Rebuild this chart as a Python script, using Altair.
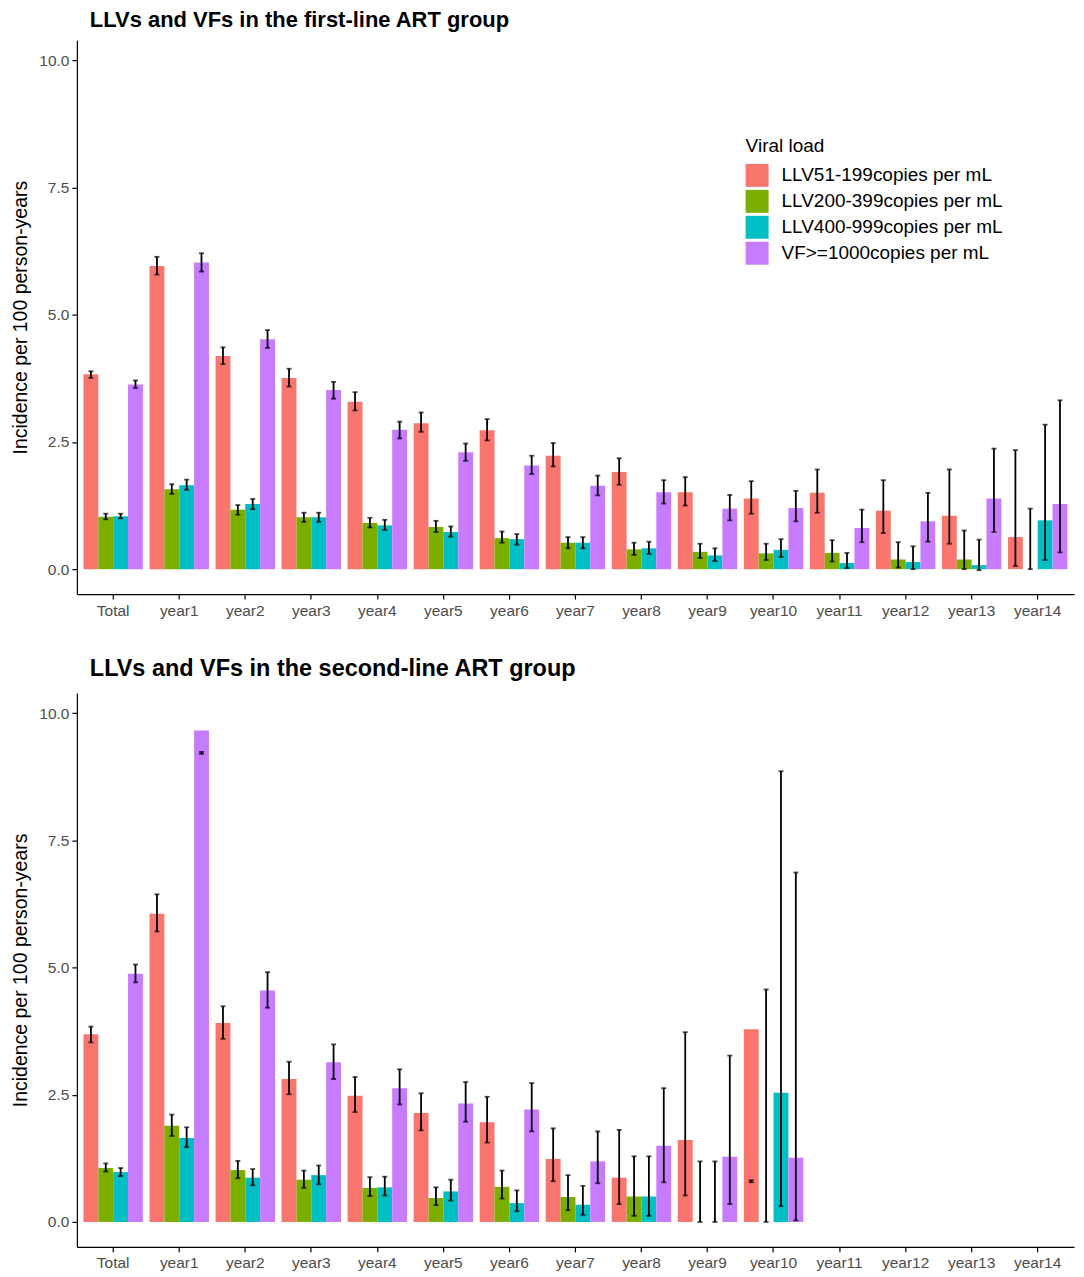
import altair as alt
import pandas as pd

categories = ["Total", "year1", "year2", "year3", "year4", "year5", "year6", "year7",
              "year8", "year9", "year10", "year11", "year12", "year13", "year14"]
series = ["LLV51-199copies per mL", "LLV200-399copies per mL",
          "LLV400-999copies per mL", "VF>=1000copies per mL"]
colors = ["#F8766D", "#7CAE00", "#00BFC4", "#C77CFF"]

# ---- first-line ART group ----
first_llv51 = [3.83, 5.96, 4.19, 3.76, 3.29, 2.87, 2.73, 2.23, 1.91, 1.51, 1.39, 1.50, 1.15, 1.05, 0.63]
first_llv51_lo = [3.76, 5.79, 4.03, 3.59, 3.12, 2.70, 2.53, 2.02, 1.66, 1.25, 1.09, 1.11, 0.71, 0.50, 0.06]
first_llv51_hi = [3.89, 6.14, 4.36, 3.94, 3.48, 3.08, 2.95, 2.48, 2.18, 1.81, 1.73, 1.96, 1.75, 1.96, 2.34]

first_llv200 = [1.03, 1.57, 1.17, 1.02, 0.91, 0.83, 0.61, 0.52, 0.39, 0.34, 0.31, 0.32, 0.19, 0.19, 0.0]
first_llv200_lo = [0.98, 1.48, 1.07, 0.93, 0.82, 0.73, 0.52, 0.41, 0.28, 0.22, 0.18, 0.15, 0.03, 0.0, 0.0]
first_llv200_hi = [1.09, 1.67, 1.26, 1.11, 1.01, 0.95, 0.74, 0.63, 0.52, 0.50, 0.50, 0.57, 0.53, 0.76, 1.19]

first_llv400 = [1.04, 1.65, 1.28, 1.02, 0.86, 0.73, 0.59, 0.52, 0.41, 0.27, 0.38, 0.12, 0.14, 0.08, 0.96]
first_llv400_lo = [1.00, 1.56, 1.18, 0.93, 0.77, 0.64, 0.48, 0.41, 0.30, 0.16, 0.24, 0.02, 0.0, -0.02, 0.18]
first_llv400_hi = [1.09, 1.76, 1.38, 1.11, 0.97, 0.84, 0.69, 0.63, 0.54, 0.41, 0.59, 0.32, 0.45, 0.58, 2.84]

first_vf = [3.63, 6.03, 4.52, 3.52, 2.74, 2.30, 2.04, 1.64, 1.51, 1.19, 1.20, 0.81, 0.94, 1.39, 1.28]
first_vf_lo = [3.56, 5.85, 4.35, 3.35, 2.57, 2.13, 1.87, 1.45, 1.29, 0.96, 0.94, 0.53, 0.54, 0.73, 0.33]
first_vf_hi = [3.71, 6.21, 4.70, 3.68, 2.90, 2.47, 2.23, 1.84, 1.75, 1.46, 1.54, 1.17, 1.50, 2.37, 3.32]

# ---- second-line ART group (no data for year11-year14) ----
second_llv51 = [3.69, 6.06, 3.91, 2.81, 2.48, 2.14, 1.96, 1.24, 0.87, 1.61, 3.79]
second_llv51_lo = [3.53, 5.71, 3.60, 2.51, 2.16, 1.80, 1.56, 0.80, 0.35, 0.52, 0.78]
second_llv51_hi = [3.84, 6.44, 4.24, 3.15, 2.85, 2.53, 2.46, 1.84, 1.81, 3.73, 0.82]

second_llv200 = [1.06, 1.89, 1.02, 0.83, 0.67, 0.47, 0.69, 0.49, 0.50, 0.0, 0.0]
second_llv200_lo = [0.99, 1.69, 0.86, 0.67, 0.51, 0.33, 0.46, 0.23, 0.12, 0.0, 0.0]
second_llv200_hi = [1.15, 2.11, 1.20, 1.01, 0.88, 0.68, 1.01, 0.92, 1.29, 1.19, 4.57]

second_llv400 = [0.98, 1.65, 0.87, 0.92, 0.68, 0.60, 0.37, 0.34, 0.50, 0.0, 2.54]
second_llv400_lo = [0.90, 1.47, 0.72, 0.74, 0.52, 0.42, 0.21, 0.14, 0.12, 0.0, 0.31]
second_llv400_hi = [1.06, 1.86, 1.04, 1.11, 0.89, 0.83, 0.62, 0.71, 1.29, 1.19, 8.86]

second_vf = [4.88, 9.66, 4.55, 3.14, 2.63, 2.33, 2.21, 1.19, 1.50, 1.28, 1.26]
second_vf_lo = [4.71, 9.20, 4.21, 2.81, 2.31, 1.97, 1.78, 0.76, 0.78, 0.35, 0.03]
second_vf_hi = [5.06, 9.24, 4.91, 3.49, 3.00, 2.75, 2.73, 1.78, 2.63, 3.27, 6.87]


def build(vals, los, his):
    rows = []
    for s, v, lo, hi in zip(series, vals, los, his):
        for i in range(len(v)):
            rows.append({"cat": categories[i], "series": s,
                         "value": v[i], "lo": lo[i], "hi": hi[i]})
    return pd.DataFrame(rows)


df_first = build([first_llv51, first_llv200, first_llv400, first_vf],
                 [first_llv51_lo, first_llv200_lo, first_llv400_lo, first_vf_lo],
                 [first_llv51_hi, first_llv200_hi, first_llv400_hi, first_vf_hi])
df_second = build([second_llv51, second_llv200, second_llv400, second_vf],
                  [second_llv51_lo, second_llv200_lo, second_llv400_lo, second_vf_lo],
                  [second_llv51_hi, second_llv200_hi, second_llv400_hi, second_vf_hi])

W, H = 999, 555
YDOM = [-0.49, 10.4]
LABEL_FONT = "Liberation Sans"


def panel(df, title, title_size, title_offset, show_legend):
    x = alt.X("cat:N", sort=categories,
              scale=alt.Scale(domain=categories, paddingInner=0.1, paddingOuter=0.1),
              axis=alt.Axis(title=None, labelAngle=0, labelFontSize=15.5, labelColor="#4D4D4D",
                            labelFont=LABEL_FONT, tickColor="black", domainColor="black",
                            tickSize=5, labelPadding=4, domainWidth=1.2, tickWidth=1.2))
    xo = alt.XOffset("series:N", sort=series,
                     scale=alt.Scale(domain=series, paddingInner=0, paddingOuter=0))
    if show_legend:
        leg = alt.Legend(title="Viral load", orient="none", legendX=670, legendY=97,
                         symbolType="square", symbolSize=529, symbolStrokeWidth=0,
                         symbolOpacity=1, titleFontSize=19, titleFontWeight="normal",
                         titleFont=LABEL_FONT, labelFont=LABEL_FONT, labelLimit=0,
                         labelFontSize=19, labelColor="black", titleColor="black",
                         rowPadding=3, labelOffset=13, titlePadding=8, padding=0)
    else:
        leg = None
    color = alt.Color("series:N", sort=series,
                      scale=alt.Scale(domain=series, range=colors), legend=leg)
    y = alt.Y("value:Q", scale=alt.Scale(domain=YDOM, nice=False, zero=False),
              axis=alt.Axis(title="Incidence per 100 person-years", titleFontSize=19.5,
                            titleFontWeight="normal", titleColor="black", titleFont=LABEL_FONT,
                            values=[0, 2.5, 5, 7.5, 10], format=".1f", labelFontSize=15.5,
                            labelFont=LABEL_FONT, labelColor="#4D4D4D", tickColor="black",
                            domainColor="black", grid=False, tickSize=5, labelPadding=3,
                            titlePadding=8, domainWidth=1.2, tickWidth=1.2))
    base = alt.Chart(df)
    bars = base.mark_bar(opacity=1).encode(x=x, xOffset=xo, y=y, color=color)
    rules = base.mark_rule(color="black", strokeWidth=1.8).encode(
        x=x, xOffset=xo, y=alt.Y("lo:Q", scale=alt.Scale(domain=YDOM, nice=False, zero=False)),
        y2="hi:Q")
    cap_lo = base.mark_tick(color="black", thickness=1.8, size=5).encode(
        x=x, xOffset=xo, y=alt.Y("lo:Q", scale=alt.Scale(domain=YDOM, nice=False, zero=False)))
    cap_hi = base.mark_tick(color="black", thickness=1.8, size=5).encode(
        x=x, xOffset=xo, y=alt.Y("hi:Q", scale=alt.Scale(domain=YDOM, nice=False, zero=False)))
    return alt.layer(bars, rules, cap_lo, cap_hi).properties(
        width=W, height=H,
        title=alt.TitleParams(title, anchor="start", frame="group", font=LABEL_FONT,
                              fontSize=title_size, fontWeight="bold", color="black",
                              dx=13, offset=title_offset))


top = panel(df_first, "LLVs and VFs in the first-line ART group", 22, 8, True)
bottom = panel(df_second, "LLVs and VFs in the second-line ART group", 23.5, 12, False)

chart = alt.vconcat(top, bottom, spacing=38).resolve_legend(color="independent").properties(
    padding={"left": 2, "top": 0, "right": 2, "bottom": 2}
).configure(background="white").configure_view(strokeWidth=0, stroke="transparent")

chart.save("out.html", embed_options={"renderer": "svg", "actions": False})
